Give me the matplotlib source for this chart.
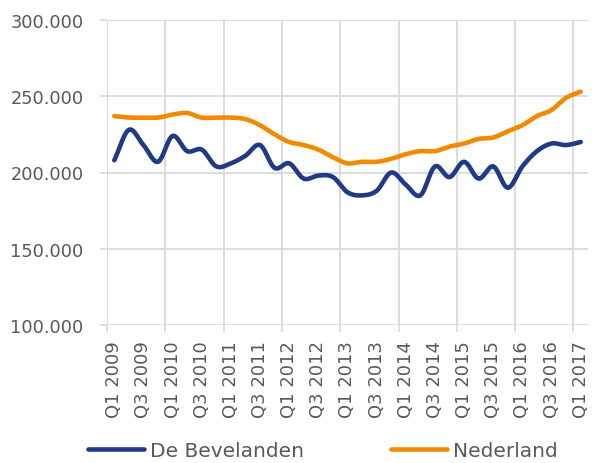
import matplotlib
matplotlib.use("Agg")
import matplotlib.pyplot as plt
import numpy as np
from matplotlib.ticker import FuncFormatter, FixedLocator

# Quarters Q1 2009 .. Q1 2017
quarters = [f"Q{q} {y}" for y in range(2009, 2018) for q in (1, 2, 3, 4)][:33]

bevelanden = [
    208, 228, 218, 207, 224, 214, 215, 204, 206, 211, 218, 203, 206, 196,
    198, 197, 187, 185, 188, 200, 192, 185, 204, 197, 207, 196, 204, 190,
    204, 214, 219, 218, 220,
]
nederland = [
    237, 236, 236, 236, 238, 239, 236, 236, 236, 235, 231, 225, 220, 218,
    215, 210, 206, 207, 207, 209, 212, 214, 214, 217, 219, 222, 223, 227,
    231, 237, 241, 249, 253,
]

blue = "#203A86"
orange = "#F28A00"
grid_color = "#D9D9D9"
text_color = "#595959"

plt.rcParams["font.family"] = ["DejaVu Sans"]


def smooth(x, y, n=12):
    # Catmull-Rom style smoothing, like a spreadsheet's smoothed line
    x = np.asarray(x, float)
    y = np.asarray(y, float)
    px = np.concatenate([[2 * x[0] - x[1]], x, [2 * x[-1] - x[-2]]])
    py = np.concatenate([[2 * y[0] - y[1]], y, [2 * y[-1] - y[-2]]])
    t = np.linspace(0, 1, n, endpoint=False)
    xs, ys = [], []
    for i in range(1, len(px) - 2):
        for src, out in ((px, xs), (py, ys)):
            p0, p1, p2, p3 = src[i - 1], src[i], src[i + 1], src[i + 2]
            out.append(0.5 * (2 * p1 + (-p0 + p2) * t
                              + (2 * p0 - 5 * p1 + 4 * p2 - p3) * t**2
                              + (-p0 + 3 * p1 - 3 * p2 + p3) * t**3))
    xs.append([x[-1]])
    ys.append([y[-1]])
    return np.concatenate(xs), np.concatenate(ys)


fig = plt.figure(figsize=(5.92, 4.64), dpi=100)
ax = fig.add_axes([107 / 592, 1 - 326 / 464, 481 / 592, 305 / 464])

idx = np.arange(len(quarters))
bx, by = smooth(idx, np.array(bevelanden) * 1000)
nx, ny = smooth(idx, np.array(nederland) * 1000)
ax.plot(bx, by, color=blue, lw=3.3, solid_capstyle="round", label="De Bevelanden", zorder=3)
ax.plot(nx, ny, color=orange, lw=3.3, solid_capstyle="round", label="Nederland", zorder=3)

ax.set_xlim(-0.5, len(quarters) - 0.5)
ax.set_ylim(100000, 300000)
ax.set_yticks([100000, 150000, 200000, 250000, 300000])
ax.yaxis.set_major_formatter(FuncFormatter(lambda v, p: f"{int(v):,}".replace(",", ".")))

ax.set_xticks(idx[::2])
ax.set_xticklabels(quarters[::2], rotation=90)
ax.xaxis.set_minor_locator(FixedLocator(np.arange(-0.5, len(quarters), 4)))

ax.tick_params(axis="x", which="major", length=0, pad=11, labelsize=13, labelcolor=text_color)
ax.tick_params(axis="x", which="minor", length=5, width=1.2, color=grid_color)
ax.tick_params(axis="y", length=5, width=1.2, color=grid_color, pad=12,
               labelsize=12.8, labelcolor=text_color)

ax.grid(True, axis="y", color=grid_color, lw=1.3)
ax.grid(True, axis="x", which="minor", color=grid_color, lw=1.3)
ax.set_axisbelow(True)
for s in ax.spines.values():
    s.set_visible(False)

fig.legend(loc="center left", bbox_to_anchor=(88 / 592, 1 - 452 / 464), ncol=2,
           frameon=False, borderpad=0, borderaxespad=0, fontsize=14.5,
           labelcolor=text_color, handlelength=2.8, handletextpad=0.3,
           columnspacing=4.3)

fig.savefig("out.png", dpi=100)
